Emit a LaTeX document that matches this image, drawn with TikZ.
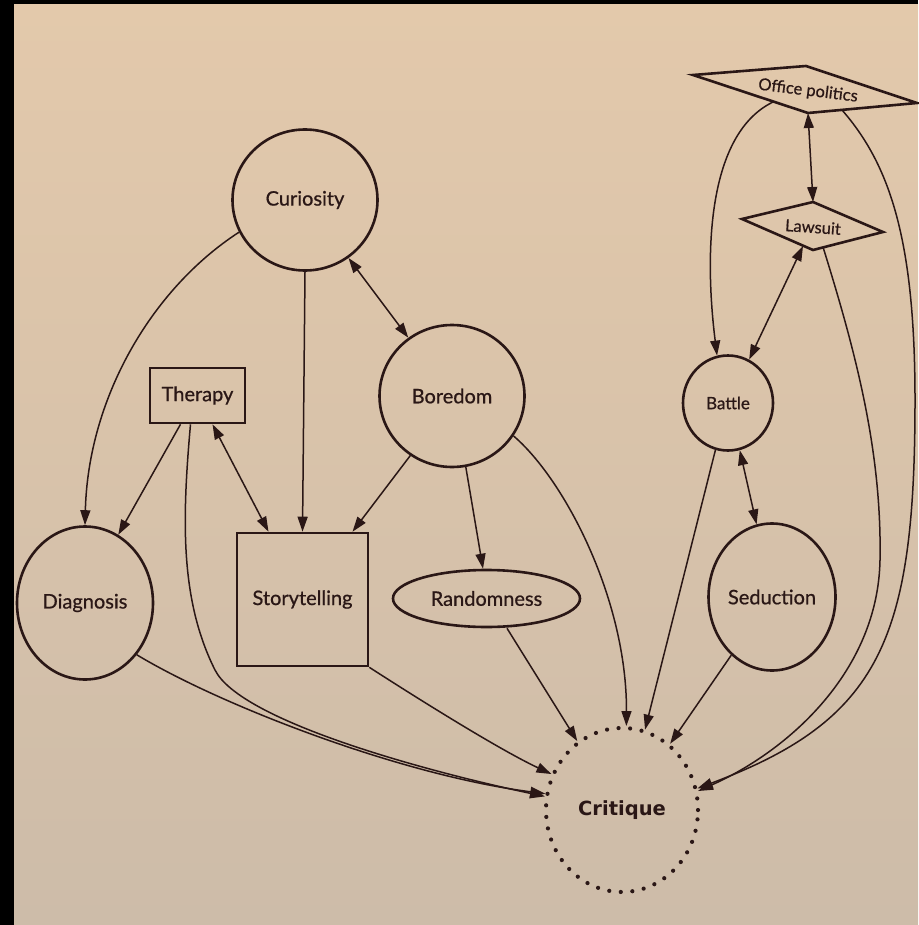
\documentclass[tikz,border=0pt]{standalone}
\usepackage{fontspec}
\usetikzlibrary{shapes.geometric,arrows.meta}
\newfontfamily\gillish[BoldFont={Lato}, BoldFeatures={FakeBold=0.7}]{Lato}
\newfontfamily\critfont{DejaVu Sans}
\definecolor{ink}{HTML}{2A1716}
\definecolor{pagetop}{HTML}{E3C9AB}
\definecolor{pagebot}{HTML}{CDBCA9}
\tikzset{
  nd/.style={draw=ink, line width=2.6pt, inner sep=0pt, text=ink, font=\gillish\bfseries\fontsize{20}{20}\selectfont},
  ell/.style={nd, ellipse},
  box/.style={nd, rectangle},
  small/.style={text=ink, inner sep=0pt, font=\gillish\bfseries\fontsize{16.5}{16.5}\selectfont},
  conn/.style={draw=ink, line width=1.5pt, -{Triangle[length=15pt,width=10pt]}},
  biconn/.style={draw=ink, line width=1.5pt, {Triangle[length=15pt,width=10pt]}-{Triangle[length=15pt,width=10pt]}},
  outline/.style={draw=ink, line width=2.6pt, line join=miter},
}
\begin{document}
\begin{tikzpicture}[x=1pt,y=-1pt]
\useasboundingbox (0,0) rectangle (918,925);
\fill[black] (0,0) rectangle (918,925);
\shade[top color=pagetop, bottom color=pagebot] (14,5) rectangle (918,925);

% nodes
\node[ell, minimum width=145pt, minimum height=141pt] (cur) at (305,200) {Curiosity};
\node[ell, minimum width=145pt, minimum height=142pt] (bor) at (452,396) {Boredom};
\node[box, minimum width=95pt, minimum height=55pt] (ther) at (197.5,395.5) {Therapy};
\node[box, minimum width=131pt, minimum height=133pt] (story) at (302.5,599.5) {Storytelling};
\node[ell, minimum width=136pt, minimum height=153pt] (diag) at (85,603) {Diagnosis};
\node[ell, minimum width=187pt, minimum height=57pt] (rand) at (486.5,598.5) {Randomness};
\node[ell, draw=ink, line width=4.2pt, dash pattern=on 0pt off 11.6pt, line cap=round,
      minimum width=152pt, minimum height=164pt, inner sep=0pt, text=ink,
      font=\critfont\bfseries\fontsize{19.5}{19.5}\selectfont] (crit) at (622,810) {Critique};
\node[ell, minimum width=90pt, minimum height=95pt, font=\gillish\bfseries\fontsize{17}{17}\selectfont] (bat) at (728,403) {Battle};
\node[ell, minimum width=127pt, minimum height=147pt] (sed) at (772,597) {Seduction};

% Office politics (slanted diamond)
\coordinate (offL) at (693,75);
\coordinate (offT) at (806,66);
\coordinate (offR) at (917,103);
\coordinate (offB) at (808,113);
\draw[outline] (offL) -- (offT) -- (offR) -- (offB) -- cycle;
\node[small, rotate=-7] (office) at (808,91) {Office politics};
\coordinate (offS1) at (773,102);
\coordinate (offS2) at (842,110);

% Lawsuit (diamond)
\coordinate (lawL) at (742,219);
\coordinate (lawT) at (813,202);
\coordinate (lawR) at (883,232);
\coordinate (lawB) at (813,250);
\draw[outline] (lawL) -- (lawT) -- (lawR) -- (lawB) -- cycle;
\node[small, rotate=-4] (law) at (813,227) {Lawsuit};
\coordinate (lawS1) at (803,246);
\coordinate (lawS2) at (823,247);

% connectors
\draw[biconn] (cur) -- (bor);
\draw[conn] (cur.206) .. controls (150,290) and (88,400) .. (diag.north);
\draw[conn] (cur.south) -- (story.north);
\draw[conn] ([xshift=-17pt]ther.south) -- (diag.64);
\draw[biconn] ([xshift=15pt]ther.south) -- ([xshift=-34pt]story.north);
\draw[conn] ([xshift=-7pt]ther.south) .. controls (182,520) and (180,600) .. (215,670)
            .. controls (240,720) and (420,770) .. (crit.170);
\draw[conn] (diag.-45) .. controls (220,705) and (400,775) .. (crit.168);
\draw[conn] (bor.-125) -- ([xshift=50pt]story.north);
\draw[conn] (bor.-79) -- ([xshift=-3.5pt]rand.north);
\draw[conn] (bor.-33) .. controls (565,480) and (627,600) .. (crit.87);
\draw[conn] (story.south east) .. controls (420,700) and (500,750) .. (crit.153);
\draw[conn] ([xshift=20.5pt]rand.south) -- (crit.123);
\draw[conn] (bat.-105) -- (crit.74);
\draw[biconn] (bat.-76) -- (sed.102);
\draw[conn] (sed.-125) -- (crit.54);
\draw[conn] (offS1) .. controls (705,135) and (705,260) .. (bat.103);
\draw[biconn] (offB) -- (lawT);
\draw[biconn] (lawS1) -- (bat.64);
\draw[conn] (lawS2) .. controls (855,350) and (882,450) .. (880,560)
            .. controls (878,670) and (790,750) .. (crit.14);
\draw[conn] (offS2) .. controls (890,165) and (915,240) .. (915,400)
            .. controls (915,640) and (880,720) .. (crit.16);
\end{tikzpicture}
\end{document}
